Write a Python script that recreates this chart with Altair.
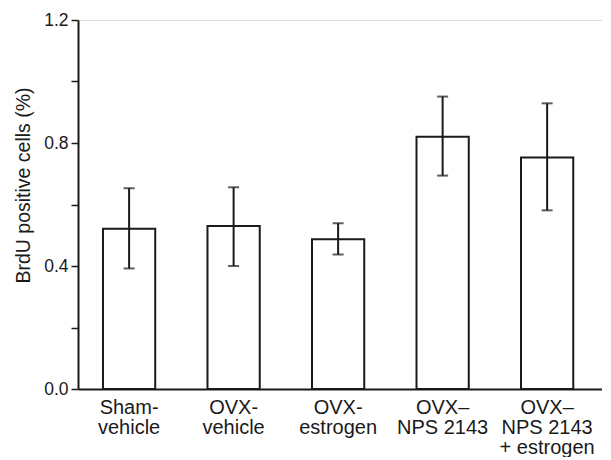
import altair as alt
import pandas as pd

groups = ["Sham-|vehicle", "OVX-|vehicle", "OVX-|estrogen", "OVX–|NPS 2143", "OVX–|NPS 2143|+ estrogen"]
means = [0.521, 0.530, 0.487, 0.820, 0.753]
err_low = [0.392, 0.400, 0.437, 0.694, 0.581]
err_high = [0.653, 0.656, 0.539, 0.951, 0.929]
y_ticks = [0.0, 0.2, 0.4, 0.6, 0.8, 1.0, 1.2]

df = pd.DataFrame({"group": groups, "mean": means, "lo": err_low, "hi": err_high})

FONT = "Liberation Sans"
INK = "#1a1a1a"

xscale = alt.Scale(domain=groups, paddingInner=0.5, paddingOuter=0.257, align=0.465)
yscale = alt.Scale(domain=[0, 1.2], nice=False, zero=True)

xenc = alt.X("group:N", scale=xscale, sort=groups, axis=alt.Axis(
    title=None, labelAngle=0, ticks=False, labelExpr="split(datum.label, '|')",
    labelFont=FONT, labelFontSize=20, labelColor=INK, labelLineHeight=20,
    labelPadding=8, domainColor=INK, domainWidth=2, labelBaseline="top"))

bars = alt.Chart(df).mark_bar(fill="white", stroke=INK, strokeWidth=2).encode(
    x=xenc,
    y=alt.Y("mean:Q", scale=yscale, axis=alt.Axis(
        title="BrdU positive cells (%)", values=y_ticks,
        labelExpr="round(datum.value*10) % 4 == 0 ? format(datum.value, '.1f') : ''",
        labelFont=FONT, labelFontSize=17.5, labelColor=INK, labelPadding=3,
        tickSize=7, tickWidth=1.5, tickColor=INK, domainColor=INK, domainWidth=2,
        grid=False, titleFont=FONT, titleFontSize=19.5, titleFontWeight="normal",
        titleColor=INK, titleX=-45, titleY=165)),
)

rules = alt.Chart(df).mark_rule(color=INK, strokeWidth=2).encode(
    x=alt.X("group:N", scale=xscale, sort=groups),
    y=alt.Y("lo:Q", scale=yscale),
    y2="hi:Q",
)
cap_lo = alt.Chart(df).mark_tick(color=INK, thickness=2, size=11, orient="horizontal").encode(
    x=alt.X("group:N", scale=xscale, sort=groups),
    y=alt.Y("lo:Q", scale=yscale),
)
cap_hi = alt.Chart(df).mark_tick(color=INK, thickness=2, size=11, orient="horizontal").encode(
    x=alt.X("group:N", scale=xscale, sort=groups),
    y=alt.Y("hi:Q", scale=yscale),
)

chart = alt.layer(bars, rules, cap_lo, cap_hi).properties(
    width=524, height=369,
    autosize=alt.AutoSizeParams(type="none"),
    padding={"left": 70, "top": 12, "right": 0, "bottom": 68},
).configure_view(stroke=None).configure(background="white")

chart.save("out.html", embed_options={"renderer": "svg", "actions": False})
